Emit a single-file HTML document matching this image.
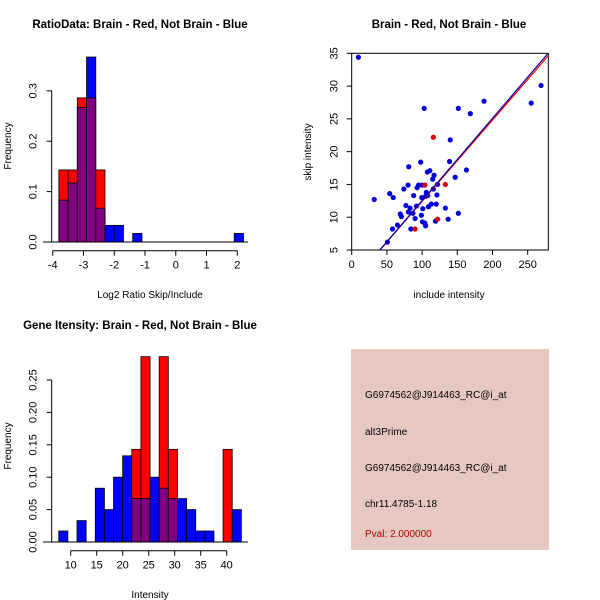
<!DOCTYPE html>
<html><head><meta charset="utf-8"><style>
body{margin:0;background:#fff;}
svg{display:block;font-family:"Liberation Sans",sans-serif;}
</style></head><body>
<svg id="c" width="600" height="600" viewBox="0 0 600 600">
<rect x="0" y="0" width="600" height="600" fill="#fff"/>
<text x="140" y="28" font-size="11.5" font-weight="bold" text-anchor="middle">RatioData: Brain - Red, Not Brain - Blue</text>
<text x="449" y="28" font-size="11.5" font-weight="bold" text-anchor="middle">Brain - Red, Not Brain - Blue</text>
<text x="140" y="329" font-size="11.5" font-weight="bold" text-anchor="middle">Gene Itensity: Brain - Red, Not Brain - Blue</text>
<text x="150" y="298" font-size="10" text-anchor="middle">Log2 Ratio Skip/Include</text>
<text transform="translate(11,146) rotate(-90)" font-size="10" text-anchor="middle">Frequency</text>
<text x="449" y="298" font-size="10" text-anchor="middle">include intensity</text>
<text transform="translate(311,152) rotate(-90)" font-size="10" text-anchor="middle">skip intensity</text>
<text x="150" y="598" font-size="10" text-anchor="middle">Intensity</text>
<text transform="translate(11,446) rotate(-90)" font-size="10" text-anchor="middle">Frequency</text>
<g>
<rect x="351" y="349" width="198" height="201" fill="#e6c8c0"/>
<text x="365" y="398" font-size="10">G6974562@J914463_RC@i_at</text>
<text x="365" y="435" font-size="10">alt3Prime</text>
<text x="365" y="471" font-size="10">G6974562@J914463_RC@i_at</text>
<text x="365" y="507" font-size="10">chr11.4785-1.18</text>
<text x="365" y="537" font-size="10" fill="#b00000">Pval: 2.000000</text>
</g>
<g id="g1"></g><g id="g2"></g><g id="g3"></g>
</svg>
<script>
// Ratio histogram data
const ratioBinStarts = [-3.8,-3.5,-3.2,-2.9,-2.6,-2.3,-2.0,-1.7,-1.4,-1.1,-0.8,-0.5,-0.2,0.1,0.4,0.7,1.0,1.3,1.6,1.9];
const ratioRed  = [0.143,0.143,0.286,0.286,0.143,0,0,0,0,0,0,0,0,0,0,0,0,0,0,0];
const ratioBlue = [0.083,0.117,0.267,0.367,0.067,0.033,0.033,0,0.017,0,0,0,0,0,0,0,0,0,0,0.017];
const ratioXTicks = [-4,-3,-2,-1,0,1,2];
const ratioYTicks = [0.0,0.1,0.2,0.3];
// Scatter data
const includeBlue = [9.5,32,50.7,54,59,58,65,69,70.5,74,77,80,81,80.5,83,84,87,88,90,92,93,95,98,99,99.5,100,100.5,101,103,104,105,106,105,107.5,108,109,111,113,115,117,116,119,120,121,122,133,137,140,139,147,151.5,151.5,163,168.5,188,255,269];
const skipBlue =    [34.4,12.7,6.2,13.6,13,8.2,8.8,10.5,10.1,14.3,11.8,14.9,17.7,10.8,11.4,8.2,10.6,13.3,9.8,11.7,14.5,14.9,18.4,10.3,13,14.9,9.3,11.3,26.6,9.1,13.2,13.8,8.7,16.9,13.3,11.6,17.1,12,15.8,16.4,14.3,9.4,12,13.4,15,11.4,9.7,21.8,18.5,16.1,26.6,10.6,17.2,25.8,27.7,27.4,30.1];
const includeRed = [116,104,133,90,122];
const skipRed =    [22.2,14.9,15,8.2,9.7];
const blueFit = [40,5,279,35];
const redFit = [40,5,279,34.6];
const scatterXTicks = [0,50,100,150,200,250];
const scatterYTicks = [5,10,15,20,25,30,35];
// Intensity histogram data
const intBinStart = 7.7, intBinWidth = 1.756;
const intRed  = [0,0,0,0,0,0,0,0,0.143,0.286,0,0.286,0.143,0,0,0,0,0,0.143,0];
const intBlue = [0.017,0,0.033,0,0.083,0.05,0.1,0.133,0.067,0.067,0.1,0.083,0.067,0.067,0.05,0.017,0.017,0,0,0.05];
const intXTicks = [10,15,20,25,30,35,40];
const intYTicks = ["0.00","0.05","0.10","0.15","0.20","0.25"];

const NS="http://www.w3.org/2000/svg";
function mk(parent,tag,attrs){const e=document.createElementNS(NS,tag);for(const k in attrs)e.setAttribute(k,attrs[k]);parent.appendChild(e);return e;}

function hist(g,starts,width,red,blue,xs,ys){
  for(let i=0;i<starts.length;i++){
    const x0=xs(starts[i]),x1=xs(starts[i]+width);
    const r=red[i],b=blue[i],mx=Math.max(r,b),mn=Math.min(r,b);
    if(mx>0){
      const e=mk(g,'rect',{x:x0,y:ys(mx),width:x1-x0,height:ys(0)-ys(mx),fill:r>b?'#ff0000':'#0000ff',stroke:'#000','stroke-width':0.8});
      
      
    }
    if(mn>0){
      const e=mk(g,'rect',{x:x0,y:ys(mn),width:x1-x0,height:ys(0)-ys(mn),fill:'#800080',stroke:'#000','stroke-width':0.8});
      
      
    }
  }
}
function axes(g,xs,ys,xt,yt,xAxisY,yAxisX,xlab,ylab){
  mk(g,'line',{x1:xs(xt[0]),x2:xs(xt[xt.length-1]),y1:xAxisY,y2:xAxisY,stroke:'#000'});
  xt.forEach((t,i)=>{const x=xs(t);mk(g,'line',{x1:x,x2:x,y1:xAxisY,y2:xAxisY+5,stroke:'#000'});
    const e=mk(g,'text',{x:x,y:xAxisY+18,'font-size':11,'text-anchor':'middle'});e.textContent=xlab[i];
    
    });
  const yv=yt.map(Number);
  mk(g,'line',{x1:yAxisX,x2:yAxisX,y1:ys(yv[0]),y2:ys(yv[yv.length-1]),stroke:'#000'});
  yv.forEach((t,i)=>{const y=ys(t);mk(g,'line',{x1:yAxisX,x2:yAxisX-5,y1:y,y2:y,stroke:'#000'});
    const e=mk(g,'text',{transform:`translate(${yAxisX-15},${y}) rotate(-90)`,'font-size':11,'text-anchor':'middle'});e.textContent=ylab[i];
    
    });
}
// Plot 1
{const g=document.getElementById('g1');
 const xs=v=>52.7+(v+4)*30.77, ys=v=>242-v*504;
 hist(g,ratioBinStarts,0.3,ratioRed,ratioBlue,xs,ys);
 mk(g,'line',{x1:43,x2:248,y1:242,y2:242,stroke:'#000'});
 axes(g,xs,ys,ratioXTicks,ratioYTicks,250.7,51.7,ratioXTicks.map(String),ratioYTicks.map(v=>v.toFixed(1)));}
// Plot 2
{const g=document.getElementById('g2');
 const xs=v=>351.7+v*0.704, ys=v=>250-(v-5)*6.556;
 mk(g,'rect',{x:351.7,y:53.3,width:196.6,height:196.7,fill:'none',stroke:'#000'});
 const cp=mk(g,'clipPath',{id:'cp'});mk(cp,'rect',{x:351.7,y:53.3,width:196.6,height:196.7});
 includeBlue.forEach((v,i)=>{const e=mk(g,'circle',{cx:xs(v),cy:ys(skipBlue[i]),r:2.6,fill:'#0000dd'});
   
   });
 includeRed.forEach((v,i)=>{const e=mk(g,'circle',{cx:xs(v),cy:ys(skipRed[i]),r:2.6,fill:'#dd0000'});
   
   });
 const l1=mk(g,'line',{x1:xs(redFit[0]),y1:ys(redFit[1]),x2:xs(redFit[2]),y2:ys(redFit[3]),stroke:'#ff0000','stroke-width':1.2,'clip-path':'url(#cp)'});
 
 
 const l2=mk(g,'line',{x1:xs(blueFit[0]),y1:ys(blueFit[1]),x2:xs(blueFit[2]),y2:ys(blueFit[3]),stroke:'#0000aa','stroke-width':1.2,'clip-path':'url(#cp)'});
 
 
 scatterXTicks.forEach(t=>{const x=xs(t);mk(g,'line',{x1:x,x2:x,y1:250,y2:255,stroke:'#000'});
   const e=mk(g,'text',{x:x,y:268,'font-size':11,'text-anchor':'middle'});e.textContent=t;
   
   });
 scatterYTicks.forEach(t=>{const y=ys(t);mk(g,'line',{x1:351.7,x2:346.7,y1:y,y2:y,stroke:'#000'});
   const e=mk(g,'text',{transform:`translate(337.5,${y}) rotate(-90)`,'font-size':11,'text-anchor':'middle'});e.textContent=t;
   
   });}
// Plot 3
{const g=document.getElementById('g3');
 const xs=v=>70.7+(v-10)*5.2, ys=v=>542-v*648;
 const starts=intBlue.map((_,i)=>intBinStart+i*intBinWidth);
 hist(g,starts,intBinWidth,intRed,intBlue,xs,ys);
 mk(g,'line',{x1:43,x2:248,y1:542,y2:542,stroke:'#000'});
 axes(g,xs,ys,intXTicks,intYTicks,550.7,51.7,intXTicks.map(String),intYTicks);}
</script>
</body></html>
